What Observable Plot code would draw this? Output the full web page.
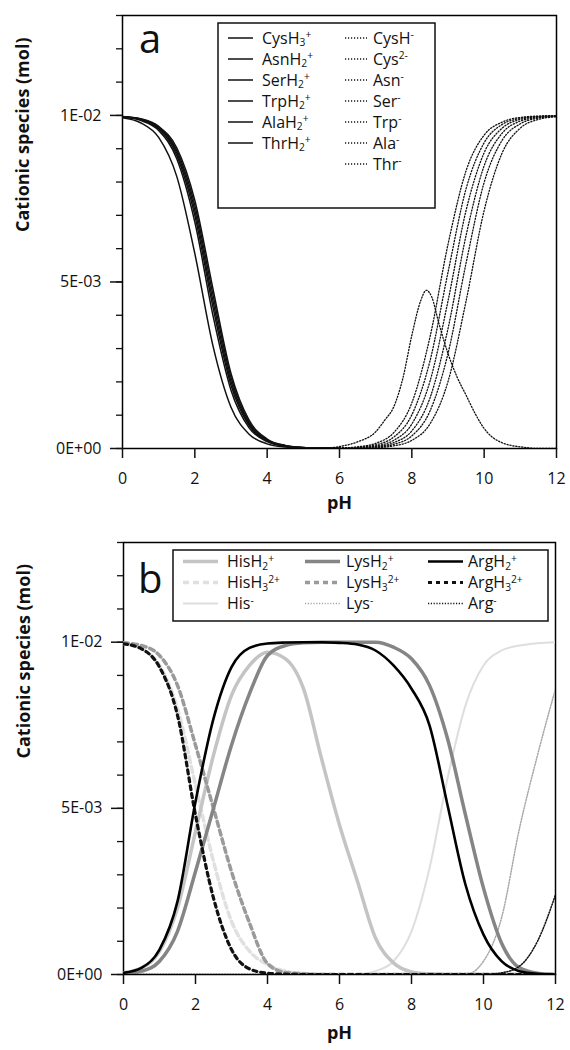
<!DOCTYPE html>
<html>
<head>
<meta charset="utf-8">
<script src="https://cdn.jsdelivr.net/npm/d3@7"></script>
<script src="https://cdn.jsdelivr.net/npm/@observablehq/plot@0.6"></script>
<style>
  body { margin: 0; background: #fff; }
  #chart { width: 570px; }
  #chart svg { display: block; }
</style>
</head>
<body>
<div id="chart"></div>
<script>
// ---------------- DATA (values in units of 1E-03 mol) ----------------
const yTickValues = [0, 0.005, 0.01];
const yTickLabels = ["0E+00", "5E-03", "1E-02"];
const yMinorTicks = [0,0.001,0.002,0.003,0.004,0.005,0.006,0.007,0.008,0.009,0.01,0.011,0.012,0.013];
const xTickValues = [0, 2, 4, 6, 8, 10, 12];
const yTitle = "Cationic species (mol)";
const xTitle = "pH";

// Panel a: cationic forms
const pHSolidA = [0,0.5,1,1.5,2,2.5,3,3.5,4,4.5,5,5.5,6];
const cysH3 = [9.93,9.78,9.34,8.17,5.85,3.09,1.24,0.43,0.14,0.044,0.014,0.004,0];
const asnH2 = [9.96,9.85,9.55,8.70,6.80,4.00,1.75,0.62,0.205,0.066,0.021,0.006,0.002];
const serH2 = [9.96,9.87,9.59,8.80,7.00,4.25,1.90,0.69,0.228,0.073,0.023,0.007,0.002];
const trpH2 = [9.96,9.88,9.62,8.88,7.15,4.43,2.01,0.74,0.245,0.079,0.025,0.008,0.003];
const alaH2 = [9.96,9.89,9.65,8.95,7.30,4.62,2.13,0.79,0.262,0.085,0.027,0.009,0.003];
const thrH2 = [9.97,9.90,9.67,9.03,7.45,4.80,2.25,0.85,0.285,0.092,0.029,0.009,0.003];
// Panel a: anionic forms
const pHDottedA = [5.5,6,6.5,7,7.5,8,8.5,9,9.5,10,10.5,11,11.5,12];
const cys2m = [0.005,0.016,0.050,0.156,0.477,1.37,3.34,6.13,8.34,9.41,9.80,9.94,9.98,9.99];
const asnM  = [0.004,0.011,0.035,0.111,0.343,1.01,2.62,5.29,7.80,9.18,9.73,9.91,9.97,9.99];
const serM  = [0.003,0.008,0.025,0.079,0.245,0.736,2.01,4.43,7.15,8.88,9.62,9.88,9.96,9.99];
const trpM  = [0.002,0.006,0.018,0.056,0.175,0.53,1.51,3.60,6.40,8.49,9.47,9.83,9.94,9.98];
const alaM  = [0.001,0.004,0.013,0.040,0.124,0.38,1.12,2.85,5.57,7.99,9.26,9.75,9.92,9.97];
const thrM  = [0.001,0.003,0.008,0.025,0.079,0.245,0.736,2.01,4.43,7.15,8.88,9.62,9.88,9.96];
const pHCysH = [5.5,6,6.5,7,7.25,7.5,7.75,8,8.25,8.4,8.55,8.75,9,9.25,9.5,9.75,10,10.25,10.5,10.75,11,11.5,12];
const cysHm  = [0,0.06,0.2,0.5,0.85,1.25,2.1,3.4,4.45,4.75,4.55,3.75,2.85,2.15,1.6,1.05,0.6,0.32,0.17,0.09,0.05,0,0];

// Panel b
const pHB = [0,0.5,1,1.5,2,2.5,3,3.5,4,4.5,5,5.5,6,6.5,7,7.5,8,8.5,9,9.5,10,10.5,11,11.5,12];
const hisH2 = [0.05,0.2,0.7,2.0,4.3,6.6,8.4,9.3,9.7,9.5,8.6,6.5,4.5,2.8,1.1,0.35,0.08,0.02,0,0,0,0,0,0,0];
const hisH3 = [9.95,9.8,9.3,8.0,5.7,3.4,1.6,0.7,0.3,0.1,0.03,0.01,0,0,0,0,0,0,0,0,0,0,0,0,0];
const hisM  = [0,0,0,0,0,0,0,0,0,0,0,0,0,0,0.1,0.4,1.3,3.2,5.9,8.1,9.3,9.75,9.9,9.97,10];
const lysH2 = [0.02,0.1,0.4,1.3,3.1,5.0,6.9,8.45,9.6,9.9,9.98,10,10,10,10,9.85,9.5,8.7,7.1,4.8,2.6,0.95,0.2,0.04,0];
const lysH3 = [9.98,9.9,9.6,8.7,6.9,5.0,3.1,1.55,0.33,0.06,0.02,0,0,0,0,0,0,0,0,0,0,0,0,0,0];
const lysM  = [0,0,0,0,0,0,0,0,0,0,0,0,0,0,0,0,0,0,0,0,0.4,1.7,4.4,6.6,8.6];
const argH2 = [0.05,0.2,0.75,2.2,5.2,7.7,9.25,9.83,9.96,9.99,10,10,9.98,9.93,9.75,9.3,8.6,7.5,5.1,2.7,1.2,0.4,0.1,0.02,0];
const argH3 = [9.95,9.8,9.25,7.8,4.8,2.3,0.75,0.17,0.04,0.01,0,0,0,0,0,0,0,0,0,0,0,0,0,0,0];
const argM  = [0,0,0,0,0,0,0,0,0,0,0,0,0,0,0,0,0,0,0,0,0,0.05,0.25,1.0,2.4];

// ---------------- STYLES ----------------
const FONT = "'Open Sans', 'Liberation Sans', Arial, sans-serif";
const solidA  = {stroke: "#111", strokeWidth: 1.5};
const dottedA = {stroke: "#111", strokeWidth: 1.3, strokeDasharray: "1.2,1.8"};
const stylesB = {
  hisH3: {stroke: "#e0e0e0", strokeWidth: 3.5, strokeDasharray: "6,4"},
  hisM:  {stroke: "#dedede", strokeWidth: 2},
  hisH2: {stroke: "#c4c4c4", strokeWidth: 3.5},
  lysM:  {stroke: "#a8a8a8", strokeWidth: 1.5, strokeDasharray: "1.2,1.6"},
  lysH3: {stroke: "#9a9a9a", strokeWidth: 3.5, strokeDasharray: "5,4"},
  lysH2: {stroke: "#858585", strokeWidth: 3.5},
  argM:  {stroke: "#111", strokeWidth: 1.5, strokeDasharray: "1.2,1.6"},
  argH3: {stroke: "#111", strokeWidth: 3.2, strokeDasharray: "4,4"},
  argH2: {stroke: "#000", strokeWidth: 2.6}
};

const seriesA = [
  {label: "CysH_3^+", x: pHSolidA, y: cysH3, style: solidA},
  {label: "AsnH_2^+", x: pHSolidA, y: asnH2, style: solidA},
  {label: "SerH_2^+", x: pHSolidA, y: serH2, style: solidA},
  {label: "TrpH_2^+", x: pHSolidA, y: trpH2, style: solidA},
  {label: "AlaH_2^+", x: pHSolidA, y: alaH2, style: solidA},
  {label: "ThrH_2^+", x: pHSolidA, y: thrH2, style: solidA},
  {label: "CysH^-", x: pHCysH, y: cysHm, style: dottedA},
  {label: "Cys^2-", x: pHDottedA, y: cys2m, style: dottedA},
  {label: "Asn^-", x: pHDottedA, y: asnM, style: dottedA},
  {label: "Ser^-", x: pHDottedA, y: serM, style: dottedA},
  {label: "Trp^-", x: pHDottedA, y: trpM, style: dottedA},
  {label: "Ala^-", x: pHDottedA, y: alaM, style: dottedA},
  {label: "Thr^-", x: pHDottedA, y: thrM, style: dottedA}
];
const seriesB = [
  {label: "HisH_3^2+", x: pHB, y: hisH3, style: stylesB.hisH3},
  {label: "His^-", x: pHB, y: hisM, style: stylesB.hisM},
  {label: "HisH_2^+", x: pHB, y: hisH2, style: stylesB.hisH2},
  {label: "Lys^-", x: pHB, y: lysM, style: stylesB.lysM},
  {label: "LysH_3^2+", x: pHB, y: lysH3, style: stylesB.lysH3},
  {label: "LysH_2^+", x: pHB, y: lysH2, style: stylesB.lysH2},
  {label: "Arg^-", x: pHB, y: argM, style: stylesB.argM},
  {label: "ArgH_3^2+", x: pHB, y: argH3, style: stylesB.argH3},
  {label: "ArgH_2^+", x: pHB, y: argH2, style: stylesB.argH2}
];
// legend order (columns)
const legendA = [
  ["CysH_3^+","AsnH_2^+","SerH_2^+","TrpH_2^+","AlaH_2^+","ThrH_2^+"],
  ["CysH^-","Cys^2-","Asn^-","Ser^-","Trp^-","Ala^-","Thr^-"]
];
const legendB = [
  ["HisH_2^+","HisH_3^2+","His^-"],
  ["LysH_2^+","LysH_3^2+","Lys^-"],
  ["ArgH_2^+","ArgH_3^2+","Arg^-"]
];

// ---------------- HELPERS ----------------
function richText(g, str, size, x, yCenter) {
  const t = g.append("text").attr("x", x).attr("y", yCenter + 0.36 * size)
    .attr("font-size", size).attr("font-family", FONT).attr("fill", "#111")
    .attr("text-anchor", "start").attr("dominant-baseline", "alphabetic");
  const parts = [];
  let mode = "n", buf = "";
  for (const ch of str) {
    if (ch === "_" || ch === "^") { if (buf) parts.push([mode, buf]); buf = ""; mode = ch === "_" ? "sub" : "sup"; }
    else buf += ch;
  }
  if (buf) parts.push([mode, buf]);
  let cur = 0;
  for (const [m, s] of parts) {
    const target = m === "sub" ? 0.17 * size : m === "sup" ? -0.36 * size : 0;
    t.append("tspan").attr("dy", target - cur)
      .attr("font-size", m === "n" ? size : 0.64 * size).text(s);
    cur = target;
  }
  return t;
}

function makePanel(cfg) {
  const marks = [
    Plot.frame({stroke: "#000", strokeWidth: 1.5}),
    ...cfg.series.map(s => Plot.line(
      s.x.map((p, i) => ({pH: p, v: s.y[i] * 1e-3})),
      {x: "pH", y: "v", curve: "monotone-x", clip: true, ...s.style})),
    Plot.axisY(yMinorTicks, {tickSize: 6, tickFormat: () => "", strokeWidth: 1.3, label: null}),
    Plot.axisY(yTickValues, {tickSize: 12, tickPadding: 9, strokeWidth: 1.5,
      tickFormat: d => yTickLabels[yTickValues.indexOf(d)], fontSize: 16, label: null}),
    Plot.axisX(xTickValues, {tickSize: 10, tickPadding: 14, strokeWidth: 1.5, fontSize: 16, label: null}),
    Plot.text([yTitle], {text: d => d, frameAnchor: "left", rotate: -90, dx: -99, fontSize: 18, fontWeight: "bold"}),
    Plot.text([xTitle], {text: d => d, frameAnchor: "bottom", dy: cfg.xTitleDy, fontSize: 18, fontWeight: "bold"})
  ];
  return Plot.plot({
    width: 570, height: cfg.height,
    marginTop: cfg.marginTop, marginBottom: cfg.marginBottom,
    marginLeft: cfg.marginLeft, marginRight: cfg.marginRight,
    style: {fontFamily: FONT, color: "#111", background: "#fff", overflow: "visible"},
    x: {domain: [0, 12]},
    y: {domain: [0, 0.013]},
    marks
  });
}

const byLabelA = Object.fromEntries(seriesA.map(s => [s.label, s]));
const byLabelB = Object.fromEntries(seriesB.map(s => [s.label, s]));

function drawSample(g, style, x1, x2, y) {
  g.append("line").attr("x1", x1).attr("x2", x2).attr("y1", y).attr("y2", y)
    .attr("stroke", style.stroke).attr("stroke-width", style.strokeWidth)
    .attr("stroke-dasharray", style.strokeDasharray || null);
}

// ---------------- PANEL A ----------------
const svgA = makePanel({series: seriesA, height: 520, marginTop: 15, marginBottom: 72,
  marginLeft: 122, marginRight: 14, xTitleDy: 60});
{
  const g = d3.select(svgA).append("g").attr("text-anchor", "start");
  g.append("text").attr("x", 139).attr("y", 53).attr("font-size", 40)
    .attr("font-family", FONT).attr("fill", "#111").text("a");
  g.append("rect").attr("x", 218).attr("y", 23).attr("width", 217).attr("height", 185)
    .attr("fill", "#fff").attr("stroke", "#111").attr("stroke-width", 1.5);
  const colX = [[228, 253, 262], [345, 367, 373]];
  legendA.forEach((col, c) => col.forEach((lab, r) => {
    const y = 38 + r * 21;
    drawSample(g, byLabelA[lab].style, colX[c][0], colX[c][1], y);
    richText(g, lab, 16, colX[c][2], y);
  }));
}

// ---------------- PANEL B ----------------
const svgB = makePanel({series: seriesB, height: 530, marginTop: 22, marginBottom: 76,
  marginLeft: 123, marginRight: 15, xTitleDy: 64});
{
  const g = d3.select(svgB).append("g").attr("text-anchor", "start");
  g.append("text").attr("x", 138).attr("y", 73).attr("font-size", 40)
    .attr("font-family", FONT).attr("fill", "#111").text("b");
  g.append("rect").attr("x", 173).attr("y", 30).attr("width", 375).attr("height", 71)
    .attr("fill", "#fff").attr("stroke", "#111").attr("stroke-width", 1.5);
  const colX = [[183, 218, 227], [305, 340, 346], [428, 463, 468]];
  legendB.forEach((col, c) => col.forEach((lab, r) => {
    const y = 41.5 + r * 21;
    drawSample(g, byLabelB[lab].style, colX[c][0], colX[c][1], y);
    richText(g, lab, 16, colX[c][2], y);
  }));
}

document.getElementById("chart").append(svgA, svgB);
</script>
</body>
</html>
